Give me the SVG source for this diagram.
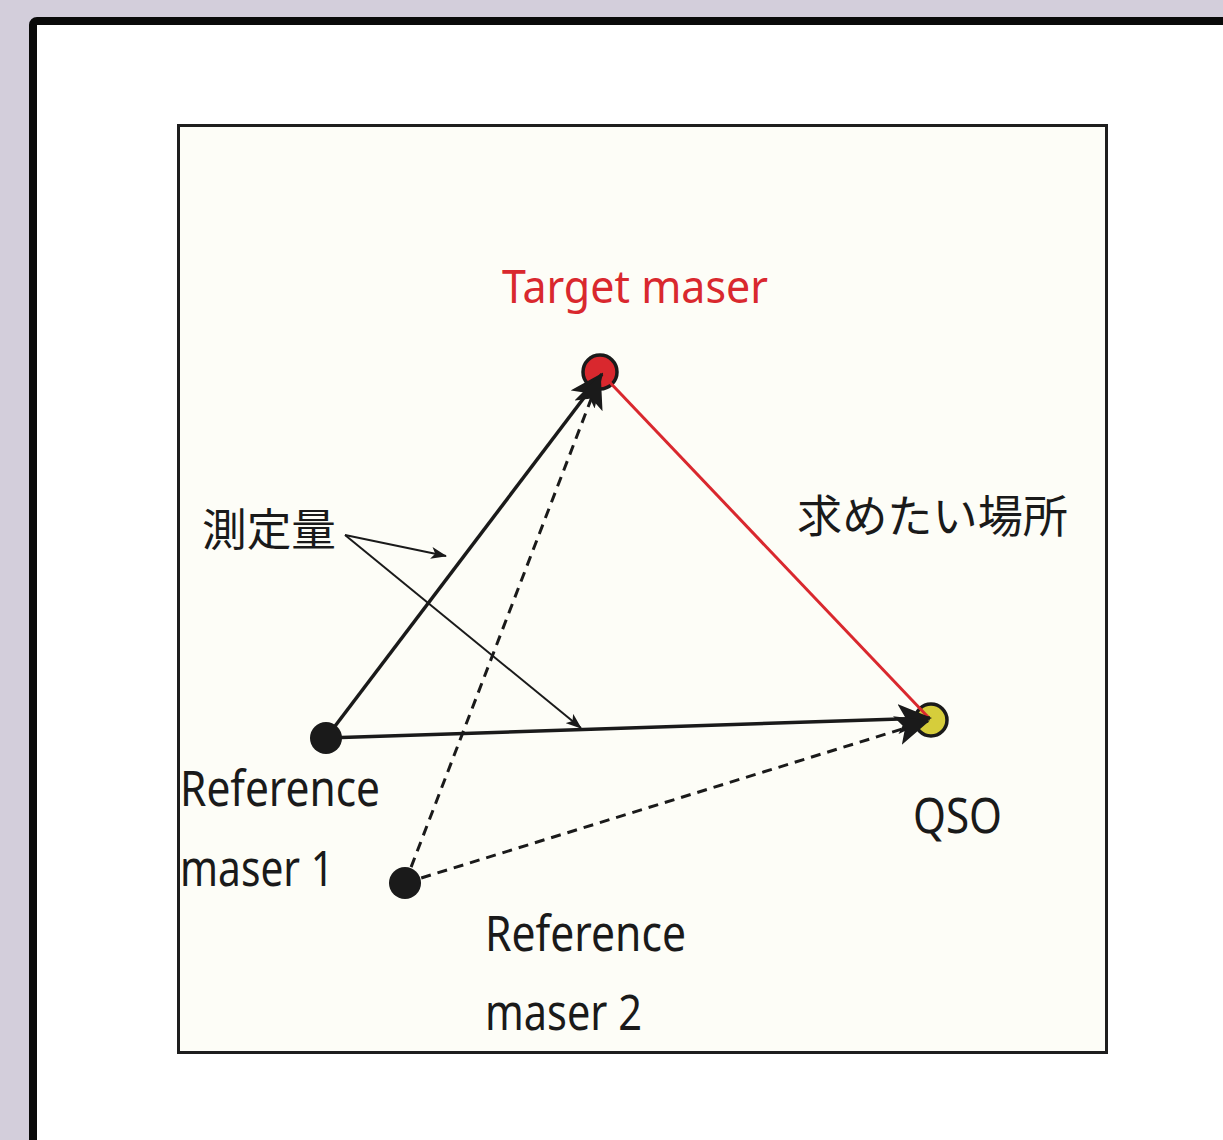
<svg xmlns="http://www.w3.org/2000/svg" width="1223" height="1140" viewBox="0 0 1223 1140">
<defs>
<style>
.lbl{font-family:"Noto Sans","Liberation Sans",sans-serif;fill:#1a1a1a}
.jp{font-family:"Noto Sans CJK JP","Noto Sans",sans-serif;fill:#1a1a1a}
.conn{stroke:#1a1a1a;fill:none}
</style>
<marker id="big" viewBox="0 0 34 30" refX="32" refY="15" markerWidth="34" markerHeight="30" markerUnits="userSpaceOnUse" orient="auto">
<path d="M0,0 L34,15 L0,30 L8,15 Z" fill="#1a1a1a"/>
</marker>
<marker id="small" viewBox="0 0 16 12" refX="15" refY="6" markerWidth="16" markerHeight="12" markerUnits="userSpaceOnUse" orient="auto">
<path d="M0,0 L16,6 L0,12 L4,6 Z" fill="#1a1a1a"/>
</marker>
</defs>
<rect x="0" y="0" width="1223" height="1140" fill="#d3cedb"/>
<rect x="33" y="21" width="1300" height="1300" rx="4" fill="#ffffff" stroke="#0a0a0a" stroke-width="8"/>
<rect x="178.5" y="125.5" width="928" height="927" fill="#fdfdf7" stroke="#1e1e1e" stroke-width="3"/>
<g id="nodes-bg">
<circle cx="600" cy="372" r="17" fill="#d9282e" stroke="#1a1a1a" stroke-width="3.5"/>
<circle cx="931" cy="720" r="16" fill="#d6cd3b" stroke="#1a1a1a" stroke-width="3.5"/>
</g>
<g id="connectors">
<line x1="600" y1="372" x2="929" y2="718" stroke="#d9282e" stroke-width="3"/>
<line class="conn" x1="326" y1="738" x2="602" y2="374" stroke-width="3.5" marker-end="url(#big)"/>
<line class="conn" x1="326" y1="738" x2="930" y2="718" stroke-width="3.5" marker-end="url(#big)"/>
<line class="conn" x1="405" y1="883" x2="600" y2="376" stroke-width="3" stroke-dasharray="10,7" marker-end="url(#big)"/>
<line class="conn" x1="405" y1="883" x2="928" y2="721" stroke-width="3" stroke-dasharray="10,7" marker-end="url(#big)"/>
<line class="conn" x1="345" y1="535" x2="446" y2="556" stroke-width="2" marker-end="url(#small)"/>
<line class="conn" x1="345" y1="535" x2="581" y2="728" stroke-width="2" marker-end="url(#small)"/>
</g>
<g id="target">
<text class="lbl" x="502" y="303" font-size="46" style="fill:#d9282e" textLength="266" lengthAdjust="spacingAndGlyphs">Target maser</text></g>
<g id="ref1"><circle cx="326" cy="738" r="16" fill="#1a1a1a"/>
<text class="lbl" x="180" y="806" font-size="49" textLength="200" lengthAdjust="spacingAndGlyphs">Reference</text>
<text class="lbl" x="180" y="886" font-size="49" textLength="154" lengthAdjust="spacingAndGlyphs">maser 1</text></g>
<g id="ref2"><circle cx="405" cy="883" r="16" fill="#1a1a1a"/>
<text class="lbl" x="485" y="951" font-size="49" textLength="201" lengthAdjust="spacingAndGlyphs">Reference</text>
<text class="lbl" x="485" y="1030" font-size="49" textLength="157" lengthAdjust="spacingAndGlyphs">maser 2</text></g>
<g id="qso">
<text class="lbl" x="913" y="833" font-size="49" textLength="89" lengthAdjust="spacingAndGlyphs">QSO</text></g>
<g id="measured"><text class="jp" x="202" y="546" font-size="44" textLength="134" lengthAdjust="spacingAndGlyphs">測定量</text></g>
<g id="wanted"><text class="jp" x="797" y="533" font-size="45" textLength="271" lengthAdjust="spacingAndGlyphs">求めたい場所</text></g>
</svg>
